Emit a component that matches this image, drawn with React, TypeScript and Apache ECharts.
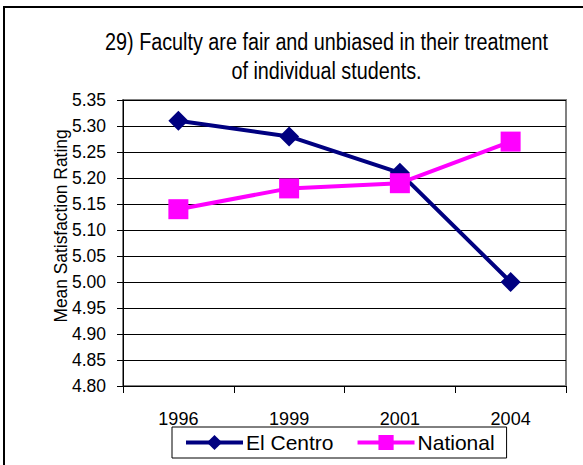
import React, { useEffect, useRef } from "react";
import * as echarts from "echarts";

const years = ["1996", "1999", "2001", "2004"];
const elCentro = [5.31, 5.28, 5.21, 5.0];
const national = [5.14, 5.18, 5.19, 5.27];
const titleLines = ["29) Faculty are fair and unbiased in their treatment", "of individual students."];
const yName = "Mean Satisfaction Rating";

const SANS = "'Liberation Sans', Arial, sans-serif";

export default function App() {
  const ref = useRef<HTMLDivElement>(null);
  useEffect(() => {
    if (!ref.current) return;
    const chart = echarts.init(ref.current, null, { renderer: "svg" });
    chart.setOption({
      animation: false,
      backgroundColor: "#ffffff",
      graphic: [
        {
          type: "rect",
          shape: { x: 4, y: 7, width: 700, height: 600 },
          style: { fill: "none", stroke: "#000", lineWidth: 2 },
          silent: true,
          z: 100,
        },
        {
          type: "text",
          x: 326.5,
          y: 42,
          scaleX: 0.86,
          style: {
            text: titleLines[0],
            fontFamily: SANS,
            fontSize: 23,
            fill: "#000",
            align: "center",
            verticalAlign: "middle",
          },
        },
        {
          type: "text",
          x: 326.5,
          y: 71,
          scaleX: 0.86,
          style: {
            text: titleLines[1],
            fontFamily: SANS,
            fontSize: 23,
            fill: "#000",
            align: "center",
            verticalAlign: "middle",
          },
        },
        {
          type: "text",
          x: 61,
          y: 226,
          rotation: Math.PI / 2,
          scaleX: 0.94,
          style: {
            text: yName,
            fontFamily: SANS,
            fontSize: 18.5,
            fill: "#000",
            align: "center",
            verticalAlign: "middle",
          },
        },
      ],
      legend: {
        left: 172,
        top: 427,
        itemGap: 22,
        padding: [5, 12, 5, 12],
        borderColor: "#000",
        borderWidth: 1,
        itemWidth: 57,
        itemHeight: 19,
        lineStyle: { width: 4 },
        textStyle: { fontFamily: SANS, fontSize: 21, color: "#000", padding: [0, 0, 0, -2] },
        data: ["El Centro", "National"],
      },
      grid: {
        left: 123,
        top: 100,
        right: 17,
        bottom: 79,
        show: true,
        borderColor: "#808080",
        borderWidth: 2,
      },
      xAxis: {
        type: "category",
        data: years,
        boundaryGap: true,
        axisLine: { show: true, lineStyle: { color: "#000", width: 1 } },
        axisTick: { show: true, length: 7, lineStyle: { color: "#000" } },
        axisLabel: { fontFamily: SANS, fontSize: 18, color: "#000", margin: 24 },
      },
      yAxis: {
        type: "value",
        min: 4.8,
        max: 5.35,
        interval: 0.05,
        axisLine: { show: true, lineStyle: { color: "#000", width: 1 } },
        axisTick: { show: true, length: 6, lineStyle: { color: "#000" } },
        axisLabel: {
          fontFamily: SANS,
          fontSize: 17.5,
          color: "#000",
          margin: 17,
          formatter: (v: number) => v.toFixed(2),
        },
        splitLine: { show: true, lineStyle: { color: "#000", width: 1 } },
      },
      series: [
        {
          name: "El Centro",
          type: "line",
          data: elCentro,
          symbol: "diamond",
          symbolSize: 20,
          lineStyle: { color: "#000080", width: 4 },
          itemStyle: { color: "#000080" },
          z: 3,
        },
        {
          name: "National",
          type: "line",
          data: national,
          symbol: "rect",
          symbolSize: 20,
          lineStyle: { color: "#FF00FF", width: 4 },
          itemStyle: { color: "#FF00FF" },
          z: 4,
        },
      ],
    });
    return () => chart.dispose();
  }, []);
  return (
    <div
      ref={ref}
      style={{ position: "fixed", left: 0, top: 0, width: 583, height: 465 }}
    />
  );
}
